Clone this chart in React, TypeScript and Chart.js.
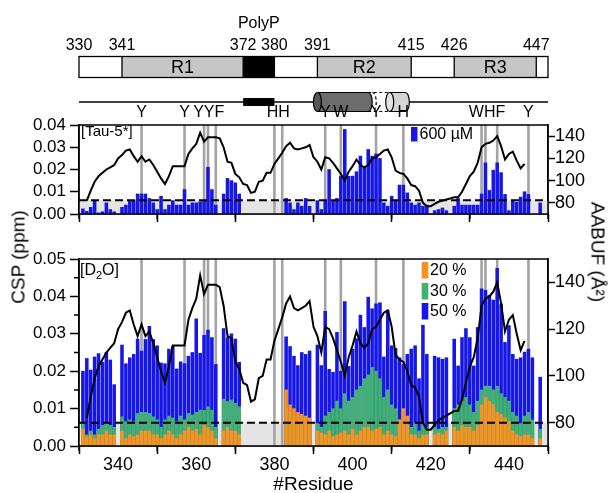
import React, { useEffect, useRef } from 'react';
import { Chart, registerables } from 'chart.js';

Chart.register(...registerables);

const FONT = '"Liberation Sans", Arial, Helvetica, sans-serif';

// ---------------- data ----------------
const RESIDUES = [
  331, 332, 333, 334, 335, 336, 337, 338, 339, 340,
  341, 342, 343, 344, 345, 346, 347, 348, 349, 350,
  351, 352, 353, 354, 355, 356, 357, 358, 359, 360,
  361, 362, 363, 364, 365, 366, 367, 368, 369, 370,
  371, 372, 373, 374, 375, 376, 377, 378, 379, 380,
  381, 382, 383, 384, 385, 386, 387, 388, 389, 390,
  391, 392, 393, 394, 395, 396, 397, 398, 399, 400,
  401, 402, 403, 404, 405, 406, 407, 408, 409, 410,
  411, 412, 413, 414, 415, 416, 417, 418, 419, 420,
  421, 422, 423, 424, 425, 426, 427, 428, 429, 430,
  431, 432, 433, 434, 435, 436, 437, 438, 439, 440,
  441, 442, 443, 444, 445, 446, 447, 448,
];

// Tau-5* 600 uM
const CSP_600 = [
  0.0023, 0.0012, 0.003, 0.006, 0.0005, 0.001, 0.005, 0.002, 0.001, null,
  0.003, 0.004, 0.006, 0.006, 0.009, 0.009, 0.009, 0.007, 0.005, 0.002,
  0.008, 0.002, 0.004, 0.006, 0.004, 0.004, 0.011, 0.004, 0.005, 0.005,
  0.0055, 0.006, 0.021, 0.011, 0.004, null, 0.009, 0.016, 0.015, 0.014,
  0.009, null, null, null, null, null, null, null, null, null,
  null, null, 0.007, 0.005, 0.002, 0.005, 0.0035, 0.007, 0.0035, null,
  0.006, 0.002, 0.006, 0.02, 0.006, 0.007, 0.017, 0.038, 0.017, 0.017,
  0.019, 0.026, 0.021, 0.029, 0.026, 0.027, 0.025, 0.005, 0.0035, 0.008,
  0.006, 0.013, 0.013, 0.0095, 0.005, 0.004, 0.005, 0.0035, 0.004, null,
  0.0015, 0.002, 0.0027, 0.0015, null, 0.0035, 0.007, 0.004, 0.004, 0.004,
  0.004, 0.004, 0.009, 0.023, 0.0106, 0.0197, 0.023, 0.0186, 0.0088, 0.0015,
  0.0058, 0.0053, 0.0076, 0.01, 0.0088, null, null, 0.005,
];

// D2O 20 %
const CSP_20 = [
  0.0045, 0.0025, 0.003, 0.002, 0.003, 0.003, 0.004, 0.003, 0.003, null,
  0.004, 0.002, 0.003, 0.0025, 0.003, 0.004, 0.004, 0.004, 0.003, 0.003,
  0.002, 0.003, 0.004, 0.003, 0.002, 0.003, 0.004, 0.005, 0.004, 0.0045,
  0.003, 0.0055, 0.005, 0.004, 0.002, null, 0.004, 0.005, 0.004, 0.004,
  0.003, null, null, null, null, null, null, null, null, null,
  null, null, 0.015, 0.011, 0.01, 0.009, 0.0085, 0.008, 0.0075, null,
  0.004, 0.0035, 0.003, 0.004, 0.0025, 0.003, 0.0035, 0.004, 0.003, 0.0045,
  0.003, 0.004, 0.005, 0.005, 0.004, 0.0045, 0.005, 0.003, 0.004, 0.003,
  0.0025, 0.007, 0.01, 0.008, 0.003, 0.003, 0.002, 0.003, 0.003, null,
  0.003, 0.0035, 0.003, 0.004, null, 0.005, 0.004, 0.0055, 0.005, 0.005,
  0.004, 0.0055, 0.011, 0.013, 0.012, 0.011, 0.009, 0.0085, 0.0075, 0.0065,
  0.004, 0.003, 0.0025, 0.003, 0.003, 0.002, null, 0.002,
];

// D2O 30 %
const CSP_30 = [
  0.006, 0.003, 0.004, 0.003, 0.0045, 0.0055, 0.006, 0.0055, 0.005, null,
  0.0078, 0.0065, 0.007, 0.0065, 0.0087, 0.009, 0.009, 0.0087, 0.0078, 0.007,
  0.005, 0.007, 0.008, 0.0075, 0.0065, 0.008, 0.007, 0.0087, 0.0083, 0.009,
  0.0096, 0.0095, 0.0105, 0.0096, 0.005, null, 0.0125, 0.0119, 0.0123, 0.0114,
  0.0105, null, null, null, null, null, null, null, null, null,
  null, null, 0.01, 0.009, 0.008, 0.007, 0.006, 0.0065, 0.006, null,
  0.006, 0.005, 0.008, 0.009, 0.01, 0.012, 0.01, 0.014, 0.012, 0.013,
  0.015, 0.016, 0.018, 0.019, 0.021, 0.02, 0.018, 0.013, 0.015, 0.011,
  0.01, 0.007, 0.006, 0.006, 0.005, 0.006, 0.004, 0.006, 0.005, null,
  0.005, 0.0045, 0.005, 0.005, null, 0.01, 0.011, 0.012, 0.013, 0.011,
  0.009, 0.012, 0.015, 0.016, 0.016, 0.015, 0.016, 0.014, 0.013, 0.012,
  0.009, 0.008, 0.006, 0.008, 0.009, 0.007, null, 0.0045,
];

// D2O 50 %
const CSP_50 = [
  0.020, 0.0234, 0.0203, 0.0238, 0.0247, 0.0224, 0.025, 0.023, 0.0164, null,
  0.027, 0.022, 0.0236, 0.0245, 0.0286, 0.0254, 0.0285, 0.032, 0.0285, 0.0268,
  0.0222, 0.022, 0.0259, 0.0266, 0.0206, 0.0225, 0.022, 0.024, 0.025, 0.034,
  0.0248, 0.0296, 0.031, 0.029, 0.0218, null, 0.0314, 0.029, 0.030, 0.0286,
  0.0224, null, null, null, null, null, null, null, null, null,
  null, null, 0.0292, 0.0266, 0.024, 0.0215, 0.025, 0.0245, 0.0254, null,
  0.027, 0.0215, 0.036, 0.0205, 0.0197, 0.0304, 0.020, 0.0386, 0.0213, 0.0259,
  0.0287, 0.035, 0.0317, 0.0398, 0.0367, 0.038, 0.0383, 0.0238, 0.0362, 0.0268,
  0.0261, 0.0236, 0.0218, 0.0245, 0.0259, 0.0268, 0.018, 0.0323, 0.0245, null,
  0.024, 0.0236, 0.0232, 0.0236, null, 0.0286, 0.0214, 0.029, 0.0314, 0.029,
  0.0214, 0.0317, 0.042, 0.0416, 0.0403, 0.039, 0.0475, 0.038, 0.0277, 0.0322,
  0.0245, 0.0232, 0.0236, 0.0251, 0.0259, 0.0236, null, 0.0184,
];

// AABUF profile, residues 332..444
const AABUF_RES = RESIDUES.slice(1, 114);
const AABUF = [
  82, 91, 99, 104, 107, 110, 112, 114, 120, 123,
  127, 128, 122, 117, 122, 117, 119, 114, 108, 102,
  97, 104, 113, 113, 113, 113, 124, 129, 133, 143,
  135, 139, 139, 139, 138, 130, 117, 116, 106, 103,
  97, 96, 89, 90, 99, 100, 107, 107, 115, 120,
  125, 131, 134, 129, 128, 129, 130, 132, 121, 117,
  110, 121, 120, 116, 111, 106, 100, 108, 113, 119,
  114, 112, 114, 120, 121, 124, 127, 128, 121, 109,
  107, 106, 102, 96, 95, 91, 80, 77, 77, 79,
  81, 82, 83, 84, 85, 85, 90, 97, 104, 108,
  116, 130, 133, 134, 136, 140, 131, 119, 124, 126,
  118, 111, 115,
];

const CSP_THRESHOLD = 0.0062;

// aromatic / His residues marked with grey lines
const MARK_RES = [346, 357, 362, 363, 365, 380, 382, 393, 397, 406, 413, 433, 434, 437, 445];
const MARK_TEXT = ['Y', 'Y', 'YYF', 'HH', 'Y', 'W', 'Y', 'H', 'WHF', 'Y'];
const MARK_TEXT_AT = [346, 357, 363.2, 381, 393, 397, 406, 413, 434.4, 445];

// axes
const X_MIN = 330;
const X_MAX = 450;
const X_TICKS = [340, 360, 380, 400, 420, 440];
const X_MINOR = [330, 350, 370, 390, 410, 430, 450];
const Y_TICKS_TOP = [0, 0.01, 0.02, 0.03, 0.04];
const Y_TICKS_BOTTOM = [0, 0.01, 0.02, 0.03, 0.04, 0.05];
const Y_MINOR_BOTTOM = [0.005, 0.015, 0.025, 0.035, 0.045];
const AABUF_TICKS = [80, 100, 120, 140];

// domain schematic
const DOMAIN_BOUNDS = [330, 341, 372, 380, 391, 415, 426, 447, 450];
const DOMAIN_FILLS = ['#ffffff', '#c6c6c6', '#000000', '#ffffff', '#c6c6c6', '#ffffff', '#c6c6c6', '#ffffff'];
const DOMAIN_NAMES = ['', 'R1', '', '', 'R2', '', 'R3', ''];
const BOUND_LABELS = [330, 341, 372, 380, 391, 415, 426, 447];
const POLYP_LABEL_AT = 376;
const POLYP_BAR = [372, 380];
const HELIX_DARK = [391, 404];
const HELIX_GAP = [404, 409.5];
const HELIX_LIGHT = [409.5, 413.5];

// colours
const BLUE = '#1616e6';
const ORANGE = '#f6921e';
const GREEN = '#3db36b';
const MARK_GREY = '#a3a3a3';
const FILL_GREY = '#e4e4e4';

// ---------------- helpers ----------------
const pts = (xs: number[], ys: (number | null)[]) => xs.map((x, i) => ({ x, y: ys[i] }));

function xScale(labels: boolean, height: number) {
  return {
    type: 'linear',
    min: X_MIN,
    max: X_MAX,
    offset: false,
    afterBuildTicks: (s: any) => { s.ticks = X_TICKS.map((v) => ({ value: v })); },
    afterFit: (s: any) => { s.height = height; },
    grid: { drawOnChartArea: false, drawTicks: true, tickLength: 8, tickWidth: 1.5, tickColor: '#000' },
    border: { display: true, color: '#000', width: 1.5 },
    ticks: {
      display: labels,
      autoSkip: false,
      maxRotation: 0,
      padding: 0,
      color: '#000',
      font: { family: FONT, size: 18 },
      callback: (v: any) => String(v),
    },
    title: labels
      ? { display: true, text: '#Residue', color: '#000', font: { family: FONT, size: 19, lineHeight: 0.85 }, padding: 0 }
      : { display: false },
  };
}

function yLeft(max: number, ticks: number[]) {
  return {
    type: 'linear',
    position: 'left',
    min: 0,
    max,
    afterBuildTicks: (s: any) => { s.ticks = ticks.map((v) => ({ value: v })); },
    afterFit: (s: any) => { s.width = 79; },
    grid: { drawOnChartArea: false, drawTicks: true, tickLength: 9, tickWidth: 1.5, tickColor: '#000' },
    border: { display: true, color: '#000', width: 1.5 },
    ticks: {
      autoSkip: false,
      color: '#000',
      padding: 4,
      font: { family: FONT, size: 17 },
      callback: (v: any) => Number(v).toFixed(2),
    },
  };
}

function yRight() {
  return {
    type: 'linear',
    position: 'right',
    min: 70,
    max: 150,
    afterBuildTicks: (s: any) => { s.ticks = AABUF_TICKS.map((v) => ({ value: v })); },
    afterFit: (s: any) => { s.width = 60; },
    grid: { drawOnChartArea: false, drawTicks: true, tickLength: 7, tickWidth: 1.5, tickColor: '#000' },
    border: { display: true, color: '#000', width: 1.5 },
    ticks: { autoSkip: false, color: '#000', padding: 0, font: { family: FONT, size: 18 } },
  };
}

function commonDatasets(yMax: number) {
  const marks = MARK_RES.map((r) => ({
    type: 'line',
    yAxisID: 'y',
    data: [{ x: r, y: 0 }, { x: r, y: yMax }],
    borderColor: MARK_GREY,
    borderWidth: 2.6,
    pointRadius: 0,
    fill: false,
    order: 8,
  }));
  return {
    aabuf: {
      type: 'line',
      yAxisID: 'y2',
      data: pts(AABUF_RES, AABUF),
      borderColor: '#000',
      borderWidth: 2,
      pointRadius: 0,
      tension: 0,
      fill: false,
      order: 0,
    },
    threshold: {
      type: 'line',
      yAxisID: 'y',
      data: [{ x: X_MIN, y: CSP_THRESHOLD }, { x: X_MAX, y: CSP_THRESHOLD }],
      borderColor: '#000',
      borderWidth: 2,
      borderDash: [8, 4],
      pointRadius: 0,
      fill: false,
      order: 1,
    },
    shade: {
      type: 'line',
      yAxisID: 'y',
      data: [{ x: X_MIN, y: CSP_THRESHOLD }, { x: X_MAX, y: CSP_THRESHOLD }],
      borderWidth: 0,
      borderColor: 'rgba(0,0,0,0)',
      backgroundColor: FILL_GREY,
      pointRadius: 0,
      fill: 'origin',
      order: 9,
    },
    marks,
  };
}

function drawFrameAndMinor(ctx: any, chart: any, yMinor: number[]) {
  const a = chart.chartArea;
  const xs = chart.scales.x;
  const ys = chart.scales.y;
  ctx.save();
  ctx.strokeStyle = '#000';
  ctx.lineWidth = 1.5;
  ctx.strokeRect(a.left, a.top, a.right - a.left, a.bottom - a.top);
  ctx.beginPath();
  X_MINOR.forEach((v) => {
    const p = xs.getPixelForValue(v);
    ctx.moveTo(p, a.bottom);
    ctx.lineTo(p, a.bottom + 5);
  });
  yMinor.forEach((v) => {
    const p = ys.getPixelForValue(v);
    ctx.moveTo(a.left, p);
    ctx.lineTo(a.left - 5, p);
  });
  ctx.stroke();
  ctx.restore();
}

function drawSchematic(ctx: any, px: (r: number) => number) {
  ctx.save();
  ctx.fillStyle = '#000';
  ctx.textAlign = 'center';
  ctx.textBaseline = 'middle';
  ctx.font = `16px ${FONT}`;
  ctx.fillText('PolyP', px(POLYP_LABEL_AT), 24);
  BOUND_LABELS.forEach((b) => ctx.fillText(String(b), px(b), 46));

  const bt = 56.5;
  const bh = 21;
  for (let i = 0; i < DOMAIN_BOUNDS.length - 1; i++) {
    const x0 = px(DOMAIN_BOUNDS[i]);
    const x1 = px(DOMAIN_BOUNDS[i + 1]);
    ctx.fillStyle = DOMAIN_FILLS[i];
    ctx.fillRect(x0, bt, x1 - x0, bh);
  }
  ctx.strokeStyle = '#000';
  ctx.lineWidth = 1.3;
  ctx.beginPath();
  for (let i = 1; i < DOMAIN_BOUNDS.length - 1; i++) {
    const xx = px(DOMAIN_BOUNDS[i]);
    ctx.moveTo(xx, bt);
    ctx.lineTo(xx, bt + bh);
  }
  ctx.stroke();
  ctx.strokeRect(px(DOMAIN_BOUNDS[0]), bt, px(DOMAIN_BOUNDS[DOMAIN_BOUNDS.length - 1]) - px(DOMAIN_BOUNDS[0]), bh);
  ctx.fillStyle = '#000';
  ctx.font = `18px ${FONT}`;
  for (let i = 0; i < DOMAIN_NAMES.length; i++) {
    if (!DOMAIN_NAMES[i]) continue;
    ctx.fillText(DOMAIN_NAMES[i], (px(DOMAIN_BOUNDS[i]) + px(DOMAIN_BOUNDS[i + 1])) / 2, bt + bh / 2 + 1);
  }

  // secondary structure row
  const cy = 102;
  const ry = 9.5;
  const rx = 4;
  ctx.lineWidth = 1.6;
  ctx.beginPath();
  ctx.moveTo(px(X_MIN), cy);
  ctx.lineTo(px(X_MAX), cy);
  ctx.stroke();
  ctx.fillStyle = '#000';
  ctx.fillRect(px(POLYP_BAR[0]), cy - 4, px(POLYP_BAR[1]) - px(POLYP_BAR[0]), 8);

  ctx.lineWidth = 1.2;
  const g0 = px(HELIX_GAP[0]);
  const g1 = px(HELIX_GAP[1]);
  ctx.fillStyle = '#fff';
  ctx.fillRect(g0, cy - ry, g1 - g0, 2 * ry);
  ctx.setLineDash([3, 2.5]);
  ctx.beginPath();
  ctx.moveTo(g0, cy - ry);
  ctx.lineTo(g1, cy - ry);
  ctx.moveTo(g0, cy + ry);
  ctx.lineTo(g1, cy + ry);
  ctx.stroke();
  ctx.beginPath();
  ctx.ellipse(g0 + 4, cy, rx, ry, 0, -Math.PI / 2, Math.PI / 2);
  ctx.stroke();
  ctx.setLineDash([]);

  const cylinder = (r0: number, r1: number, body: string, cap: string) => {
    const x0 = px(r0);
    const x1 = px(r1);
    ctx.beginPath();
    ctx.moveTo(x0, cy - ry);
    ctx.lineTo(x1, cy - ry);
    ctx.ellipse(x1, cy, rx, ry, 0, -Math.PI / 2, Math.PI / 2);
    ctx.lineTo(x0, cy + ry);
    ctx.closePath();
    ctx.fillStyle = body;
    ctx.fill();
    ctx.stroke();
    ctx.beginPath();
    ctx.ellipse(x0, cy, rx, ry, 0, 0, Math.PI * 2);
    ctx.fillStyle = cap;
    ctx.fill();
    ctx.stroke();
  };
  cylinder(HELIX_DARK[0], HELIX_DARK[1], '#6c6c6c', '#585858');
  cylinder(HELIX_LIGHT[0], HELIX_LIGHT[1], '#d4d4d4', '#e2e2e2');
  ctx.restore();
}

const topDecor = {
  id: 'topDecor',
  afterDraw(chart: any) {
    const ctx = chart.ctx;
    const xs = chart.scales.x;
    const px = (r: number) => xs.getPixelForValue(r);
    drawFrameAndMinor(ctx, chart, []);
    drawSchematic(ctx, px);
    ctx.save();
    ctx.fillStyle = '#000';
    ctx.textBaseline = 'middle';
    ctx.textAlign = 'center';
    ctx.font = `16px ${FONT}`;
    MARK_TEXT.forEach((t, i) => ctx.fillText(t, px(MARK_TEXT_AT[i]), 112.5));
    ctx.textAlign = 'left';
    ctx.font = `15px ${FONT}`;
    ctx.fillText('[Tau-5*]', chart.chartArea.left + 2, 132);
    ctx.fillStyle = BLUE;
    ctx.fillRect(411, 127, 6.5, 14.5);
    ctx.fillStyle = '#000';
    ctx.font = `16px ${FONT}`;
    ctx.fillText('600 µM', 419.5, 134.5);
    ctx.restore();
  },
};

const bottomDecor = {
  id: 'bottomDecor',
  afterDraw(chart: any) {
    const ctx = chart.ctx;
    const a = chart.chartArea;
    drawFrameAndMinor(ctx, chart, Y_MINOR_BOTTOM);
    ctx.save();
    ctx.fillStyle = '#000';
    ctx.textBaseline = 'alphabetic';
    ctx.textAlign = 'left';
    let x = a.left + 1;
    const base = a.top + 16;
    ctx.font = `16px ${FONT}`;
    ctx.fillText('[D', x, base);
    x += ctx.measureText('[D').width;
    ctx.font = `11px ${FONT}`;
    ctx.fillText('2', x, base + 4);
    x += ctx.measureText('2').width;
    ctx.font = `16px ${FONT}`;
    ctx.fillText('O]', x, base);
    const items = [
      { c: ORANGE, t: '20 %', y: 262 - 232 },
      { c: GREEN, t: '30 %', y: 283 - 232 },
      { c: BLUE, t: '50 %', y: 303 - 232 },
    ];
    ctx.textBaseline = 'middle';
    items.forEach((it) => {
      ctx.fillStyle = it.c;
      ctx.fillRect(421.7, it.y, 6.6, 16.5);
      ctx.fillStyle = '#000';
      ctx.fillText(it.t, 430, it.y + 9);
    });
    ctx.restore();
  },
};

function topConfig(): any {
  const c = commonDatasets(0.04);
  return {
    type: 'bar',
    data: {
      datasets: [
        c.aabuf,
        c.threshold,
        {
          type: 'bar',
          yAxisID: 'y',
          data: pts(RESIDUES, CSP_600),
          backgroundColor: BLUE,
          borderWidth: 0,
          barThickness: 2.9,
          grouped: false,
          order: 2,
        },
        ...c.marks,
        c.shade,
      ],
    },
    options: {
      responsive: false,
      maintainAspectRatio: false,
      animation: false,
      devicePixelRatio: 1,
      events: [],
      layout: { padding: { top: 125, left: 0, right: 0, bottom: 0 } },
      plugins: { legend: { display: false }, tooltip: { enabled: false }, title: { display: false } },
      scales: { x: xScale(false, 18), y: yLeft(0.04, Y_TICKS_TOP), y2: yRight() },
    },
    plugins: [topDecor],
  };
}

function bottomConfig(): any {
  const c = commonDatasets(0.05);
  const bar = (vals: (number | null)[], color: string, order: number) => ({
    type: 'bar',
    yAxisID: 'y',
    data: pts(RESIDUES, vals),
    backgroundColor: color,
    borderWidth: 0,
    barThickness: 2.9,
    grouped: false,
    order,
  });
  return {
    type: 'bar',
    data: {
      datasets: [
        c.aabuf,
        c.threshold,
        bar(CSP_20, ORANGE, 2),
        bar(CSP_30, GREEN, 3),
        bar(CSP_50, BLUE, 4),
        ...c.marks,
        c.shade,
      ],
    },
    options: {
      responsive: false,
      maintainAspectRatio: false,
      animation: false,
      devicePixelRatio: 1,
      events: [],
      layout: { padding: { top: 27, left: 0, right: 0, bottom: 0 } },
      plugins: { legend: { display: false }, tooltip: { enabled: false }, title: { display: false } },
      scales: { x: xScale(true, 47), y: yLeft(0.05, Y_TICKS_BOTTOM), y2: yRight() },
    },
    plugins: [bottomDecor],
  };
}

const rotated = (deg: number, cx: number, cy: number): any => ({
  position: 'absolute',
  left: cx,
  top: cy,
  transform: `translate(-50%, -50%) rotate(${deg}deg)`,
  whiteSpace: 'nowrap',
  fontFamily: FONT,
  fontSize: 19,
  lineHeight: 1,
  color: '#000',
});

export default function App() {
  const topRef = useRef<HTMLCanvasElement>(null);
  const botRef = useRef<HTMLCanvasElement>(null);

  useEffect(() => {
    const c1 = new Chart(topRef.current as HTMLCanvasElement, topConfig());
    const c2 = new Chart(botRef.current as HTMLCanvasElement, bottomConfig());
    return () => {
      c1.destroy();
      c2.destroy();
    };
  }, []);

  return (
    <div style={{ position: 'fixed', left: 0, top: 0, width: 608, height: 493, background: '#fff', overflow: 'hidden' }}>
      <canvas ref={topRef} width={608} height={232} style={{ position: 'absolute', left: 0, top: 0, width: 608, height: 232 }} />
      <canvas ref={botRef} width={608} height={261} style={{ position: 'absolute', left: 0, top: 232, width: 608, height: 261 }} />
      <div style={rotated(-90, 18, 257)}>CSP (ppm)</div>
      <div style={rotated(90, 598, 252)}>AABUF (Å²)</div>
    </div>
  );
}
